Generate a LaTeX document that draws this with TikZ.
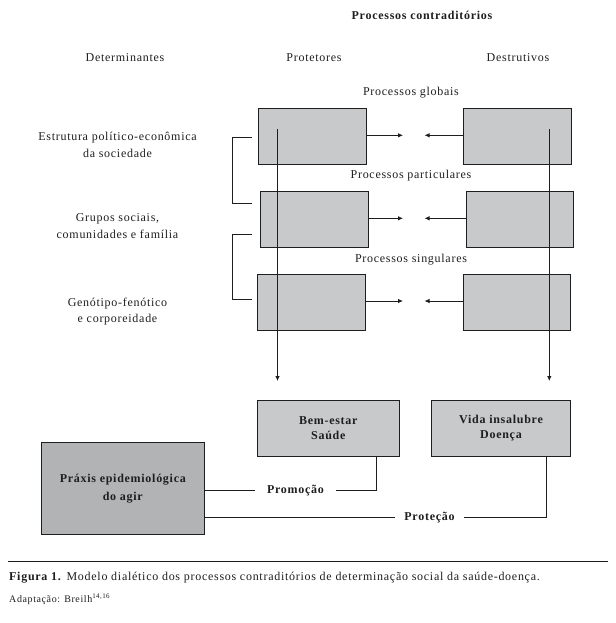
\documentclass[tikz,border=0pt]{standalone}
\usepackage{fontspec}
\setmainfont{Liberation Serif}[LetterSpace=6]
\usetikzlibrary{arrows.meta}
\definecolor{boxgray}{RGB}{200,201,203}
\definecolor{darkbox}{RGB}{178,179,181}
\definecolor{ink}{RGB}{30,30,30}
\begin{document}
\begin{tikzpicture}[x=1pt,y=-1pt,
  every node/.style={text=ink},
  lbl/.style={font=\fontsize{12}{16.5}\selectfont, align=center, inner sep=0pt},
  blbl/.style={font=\fontsize{12}{16}\selectfont\bfseries, align=center, inner sep=0pt},
  pbox/.style={draw=ink, line width=0.9pt, fill=boxgray, minimum width=108pt, minimum height=56pt, inner sep=0pt},
  obox/.style={draw=ink, line width=0.9pt, fill=boxgray, minimum height=56pt, inner sep=0pt, align=center, font=\fontsize{12}{15.7}\selectfont\bfseries},
  conn/.style={draw=ink, line width=0.8pt},
  arr/.style={conn, -{Latex[length=5pt,width=4.5pt]}}
]
\useasboundingbox (0,0) rectangle (615,623);

% headings
\node[blbl] (title) at (422,15) {Processos contraditórios};
\node[lbl] (det) at (125,57.3) {Determinantes};
\node[lbl] (prot) at (314,57.3) {Protetores};
\node[lbl] (dest) at (518,57.3) {Destrutivos};

% level labels
\node[lbl] (lglob) at (411,93) {Processos globais};
\node[lbl] (lpart) at (411,176) {Processos particulares};
\node[lbl] (lsing) at (411,260) {Processos singulares};

% determinants
\node[lbl] (d1) at (117.5,145) {Estrutura político-econômica\\da sociedade};
\node[lbl] (d2) at (117.5,226.3) {Grupos sociais,\\comunidades e família};
\node[lbl] (d3) at (117.5,311.7) {Genótipo-fenótico\\e corporeidade};

% process boxes
\node[pbox] (gl) at (312.3,136) {};
\node[pbox] (gr) at (517.3,136) {};
\node[pbox] (pl) at (314.3,219) {};
\node[pbox, minimum width=107pt] (pr) at (519.8,219) {};
\node[pbox] (sl) at (311.3,302) {};
\node[pbox, minimum width=107pt] (sr) at (516.8,302) {};

% meeting arrows
\coordinate (ga) at (403,135.3);
\coordinate (gb) at (424.5,135.3);
\coordinate (pa) at (403,218.3);
\coordinate (pb) at (424.5,218.3);
\coordinate (sa) at (403,301);
\coordinate (sb) at (424.5,301);
\draw[arr] (gl.east |- ga) -- (ga);
\draw[arr] (gr.west |- gb) -- (gb);
\draw[arr] (pl.east |- pa) -- (pa);
\draw[arr] (pr.west |- pb) -- (pb);
\draw[arr] (sl.east |- sa) -- (sa);
\draw[arr] (sr.west |- sb) -- (sb);

% brackets
\coordinate (k1a) at (251.5,137.5);
\coordinate (k1b) at (252,203.3);
\coordinate (k2a) at (252,234);
\coordinate (k2b) at (252,299.3);
\draw[conn] (k1a) -- (232.5,137.5) -- (232.5,203.3) -- (k1b);
\draw[conn] (k2a) -- (232.5,234) -- (232.5,299.3) -- (k2b);

% long vertical arrows
\coordinate (vl0) at (277.5,129.3);
\coordinate (vl1) at (277.5,381);
\coordinate (vr0) at (549.3,129.3);
\coordinate (vr1) at (549.3,381);
\draw[arr] (vl0) -- (vl1);
\draw[arr] (vr0) -- (vr1);

% outcome boxes
\node[obox, minimum width=142pt] (bem) at (328.3,428.2) {Bem-estar\\Saúde};
\node[obox, minimum width=139.4pt] (vida) at (501,428.2) {Vida insalubre\\Doença};
\node[draw=ink, line width=0.9pt, fill=darkbox, minimum width=163pt, minimum height=92pt, inner sep=0pt, align=center, font=\fontsize{12}{18}\selectfont\bfseries] (prax) at (122.8,488.3) {Práxis epidemiológica\\do agir};

% action labels
\node[blbl, inner xsep=12pt] (promo) at (295.5,490.7) {Promoção};
\node[blbl, inner xsep=9.5pt] (prote) at (429.5,517.7) {Proteção};

\coordinate (bemleg) at (376.7,456);
\coordinate (vidaleg) at (546.3,456);
\draw[conn] (prax.east |- promo) -- (promo.west);
\draw[conn] (promo.east) -| (bemleg);
\draw[conn] (prax.east |- prote) -- (prote.west);
\draw[conn] (prote.east) -| (vidaleg);

% caption
\coordinate (cl0) at (8,561.7);
\coordinate (cl1) at (608,561.7);
\draw[draw=ink, line width=1pt] (cl0) -- (cl1);
\node[anchor=west, inner sep=0pt, font=\fontsize{12}{14}\selectfont] (cap) at (9,577.7) {\textbf{Figura 1.} Modelo dialético dos processos contraditórios de determinação social da saúde-doença.};
\node[anchor=west, inner sep=0pt, font=\fontsize{10}{12}\selectfont] (src) at (9,599.5) {Adaptação: Breilh\textsuperscript{14,16}};
\end{tikzpicture}
\end{document}
